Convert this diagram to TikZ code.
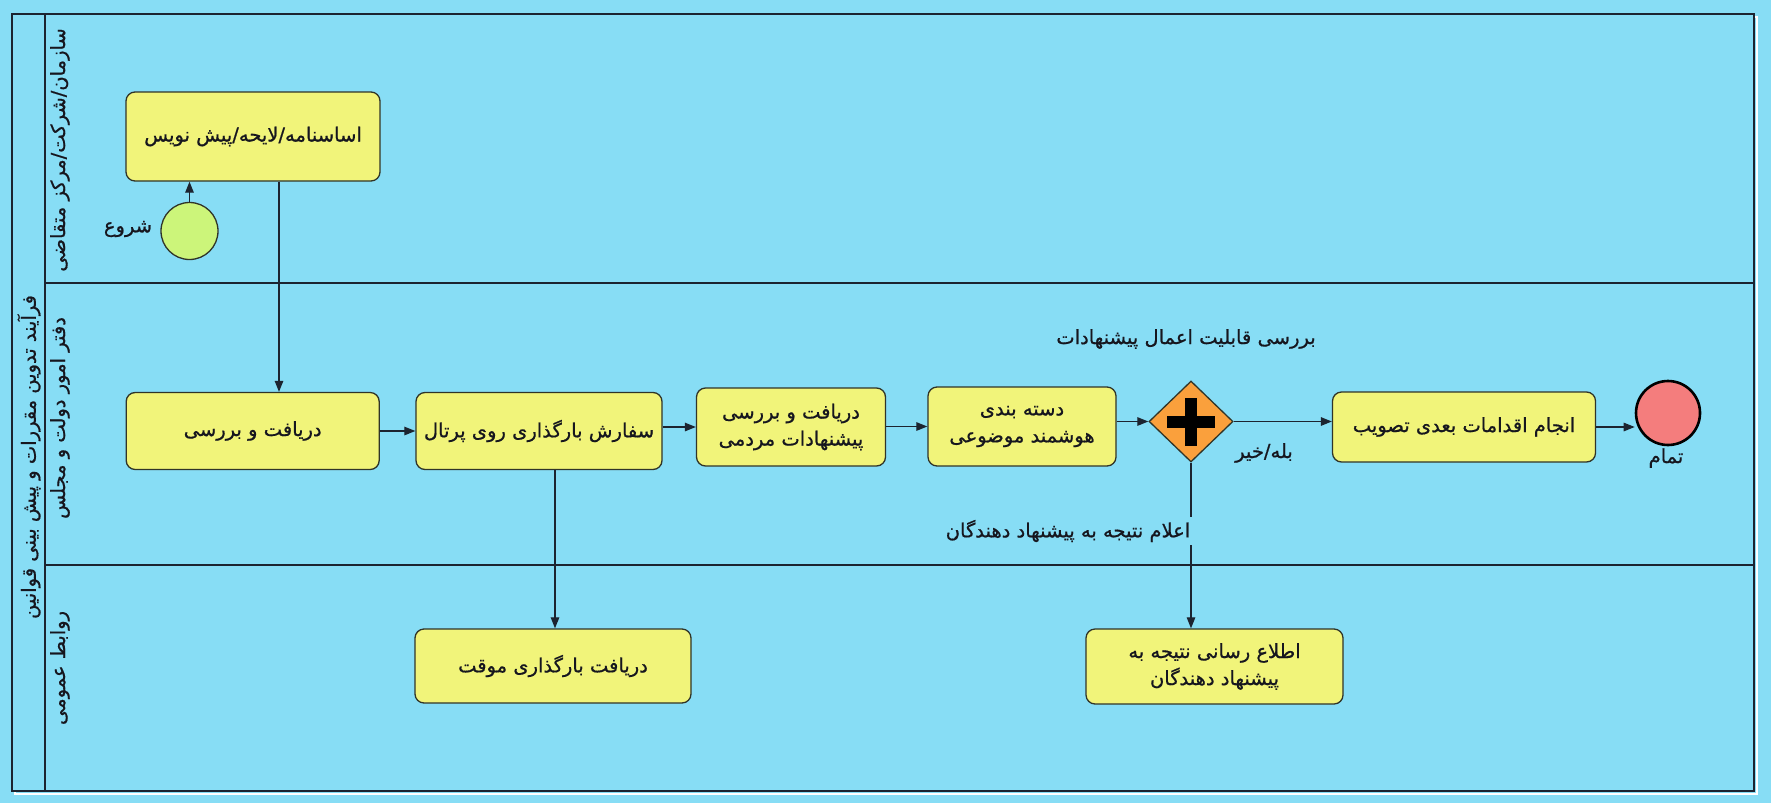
\documentclass[tikz,border=0pt]{standalone}
\usepackage{fontspec}
\newfontfamily\fa[Script=Arabic, FakeBold=0.7]{DejaVu Sans}
\TeXXeTstate=1
\usetikzlibrary{arrows.meta,shapes.geometric}
\definecolor{lanebg}{RGB}{135,221,245}
\definecolor{boxfill}{RGB}{241,244,122}
\definecolor{boxline}{RGB}{48,52,40}
\definecolor{startfill}{RGB}{204,245,122}
\definecolor{endfill}{RGB}{244,125,125}
\definecolor{gwfill}{RGB}{250,160,60}
\definecolor{linec}{RGB}{28,36,48}
\definecolor{textc}{RGB}{22,22,30}
\newcommand{\rtltxt}[1]{\beginR #1\endR}
\tikzset{
  task/.style={rectangle, rounded corners=9, draw=boxline, fill=boxfill, line width=1.3, align=center, inner sep=0},
  flow/.style={draw=linec, line width=1.2, -{Triangle[length=11pt,width=8.5pt]}},
  lbl/.style={inner sep=1, text=textc},
  lanelbl/.style={rotate=90, inner sep=0, text=textc},
}
\begin{document}
\begin{tikzpicture}[x=1pt,y=-1pt, font=\fa\fontsize{19.5}{27}\selectfont, text=textc]
\useasboundingbox[fill=lanebg] (0,0) rectangle (1771,803);
% frame
\draw[white, line width=2] (15,17) rectangle (1757,794);
\draw[linec, line width=2.5, fill=lanebg] (12,14) rectangle (1754,791);
\draw[linec, line width=1.5] (45,14) -- (45,791);
\draw[linec, line width=1.5] (45,283) -- (1754,283);
\draw[linec, line width=1.5] (45,565) -- (1754,565);
% pool and lane labels
\node[lanelbl] (pool) at (29,457) {\rtltxt{فرآیند تدوین مقررات و پیش بینی قوانین}};
\node[lanelbl] (lane1) at (60,150) {\rtltxt{سازمان/شرکت/مرکز متقاضی}};
\node[lanelbl] (lane2) at (60,418) {\rtltxt{دفتر امور دولت و مجلس}};
\node[lanelbl] (lane3) at (60,668) {\rtltxt{روابط عمومی}};
% nodes
\node[task, minimum width=254, minimum height=89] (draft) at (253,136.5) {\rtltxt{اساسنامه/لایحه/پیش نویس}};
\node[circle, draw=boxline, fill=startfill, line width=1.3, minimum size=57, inner sep=0] (start) at (189.5,231) {};
\node[lbl] (startlbl) at (128,229) {\rtltxt{شروع}};
\node[task, minimum width=253, minimum height=77] (recv) at (252.7,431) {\rtltxt{دریافت و بررسی}};
\node[task, minimum width=246, minimum height=77] (order) at (539,431) {\rtltxt{سفارش بارگذاری روی پرتال}};
\node[task, minimum width=189, minimum height=78] (people) at (791,427) {\rtltxt{دریافت و بررسی}\\\rtltxt{پیشنهادات مردمی}};
\node[task, minimum width=188, minimum height=79] (classify) at (1022,426.5) {\rtltxt{دسته بندی}\\\rtltxt{هوشمند موضوعی}};
\node[diamond, draw=boxline, fill=gwfill, line width=1.3, minimum width=84, minimum height=81, inner sep=0] (gw) at (1191,421.5) {};
\draw[black, line width=12] ([xshift=-24pt]gw.center) -- ([xshift=24pt]gw.center);
\draw[black, line width=12] ([yshift=-24pt]gw.center) -- ([yshift=24pt]gw.center);
\node[task, minimum width=263, minimum height=70] (approve) at (1464,427) {\rtltxt{انجام اقدامات بعدی تصویب}};
\node[circle, draw=black, fill=endfill, line width=2.6, minimum size=64, inner sep=0] (end) at (1668,413) {};
\node[lbl] (endlbl) at (1666,458) {\rtltxt{تمام}};
\node[lbl] (yesno) at (1264,453) {\rtltxt{بله/خیر}};
\node[lbl] (checklbl) at (1186,339) {\rtltxt{بررسی قابلیت اعمال پیشنهادات}};
\node[task, minimum width=276, minimum height=74] (temp) at (553,666) {\rtltxt{دریافت بارگذاری موقت}};
\node[task, minimum width=257, minimum height=75] (notify) at (1214.5,666.5) {\rtltxt{اطلاع رسانی نتیجه به}\\\rtltxt{پیشنهاد دهندگان}};
% connectors
\coordinate (c1) at (279,0);
\coordinate (c2) at (555,0);
\draw[flow] (start.north) -- (start.north |- draft.south);
\draw[flow] (draft.south -| c1) -- (recv.north -| c1);
\draw[flow] (recv.east) -- (order.west);
\draw[flow] (order.east |- people.west) -- (people.west);
\draw[flow] (people.east |- classify.west) -- (classify.west);
\draw[flow] (classify.east |- gw.west) -- (gw.west);
\draw[flow] (gw.east) -- (approve.west |- gw.east);
\draw[flow] (approve.east) -- (approve.east -| end.west);
\draw[flow] (order.south -| c2) -- (temp.north -| c2);
\draw[flow] (gw.south) -- (notify.north -| gw.south);
\node[lbl, fill=lanebg, inner sep=3] (notice) at (1068,531) {\rtltxt{اعلام نتیجه به پیشنهاد دهندگان}};
\end{tikzpicture}
\end{document}
